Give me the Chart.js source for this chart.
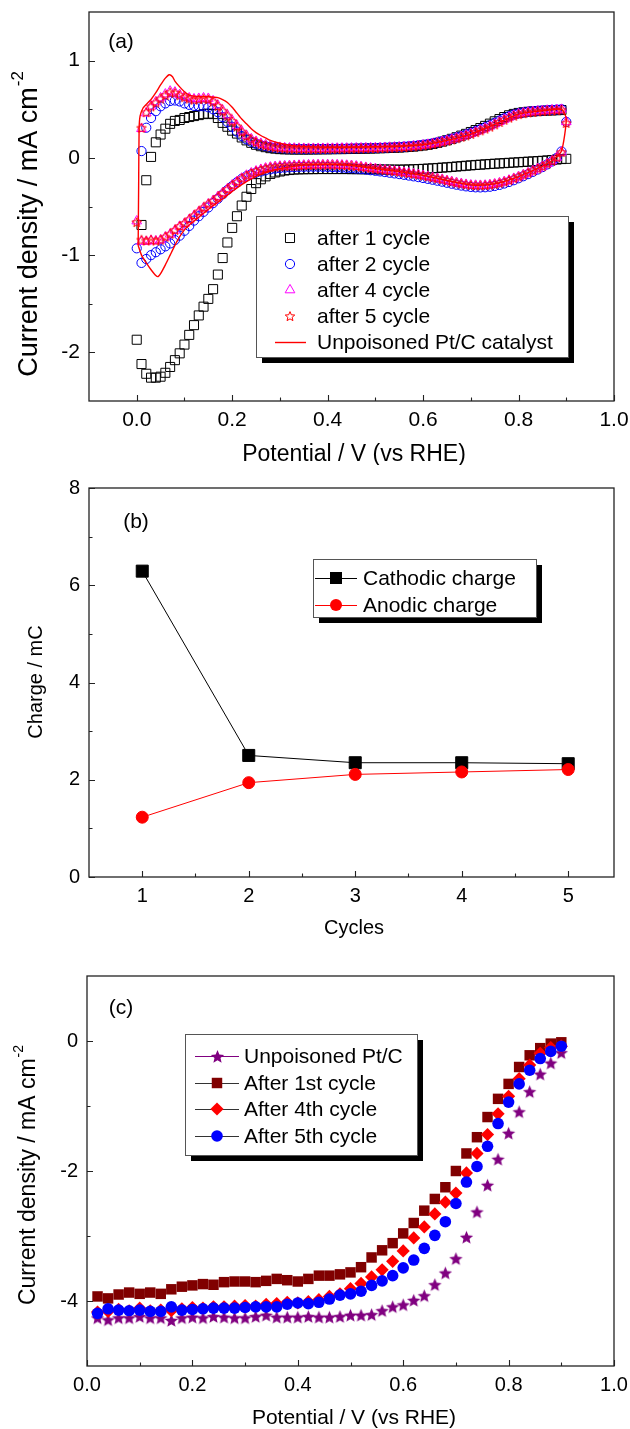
<!DOCTYPE html>
<html><head><meta charset="utf-8">
<script src="https://cdn.jsdelivr.net/npm/chart.js@4.4.1/dist/chart.umd.min.js"></script>
<style>
html,body{margin:0;padding:0;background:#fff;}
body{width:630px;height:1429px;position:relative;overflow:hidden;}
canvas{position:absolute;left:0;}
</style></head><body>
<canvas id="ca" width="630" height="465" style="top:0px"></canvas>
<canvas id="cb" width="630" height="475" style="top:465px"></canvas>
<canvas id="cc" width="630" height="489" style="top:940px"></canvas>
<script>
// ================= DATA =================
// ---- Panel (a): cyclic voltammograms ----
const cvPotential = [0.00,0.01,0.02,0.03,0.04,0.05,0.06,0.07,0.08,0.09,0.10,0.11,0.12,0.13,0.14,0.15,0.16,0.17,0.18,0.19,0.20,0.21,0.22,0.23,0.24,0.25,0.26,0.27,0.28,0.29,0.30,0.31,0.32,0.33,0.34,0.35,0.36,0.37,0.38,0.39,0.40,0.41,0.42,0.43,0.44,0.45,0.46,0.47,0.48,0.49,0.50,0.51,0.52,0.53,0.54,0.55,0.56,0.57,0.58,0.59,0.60,0.61,0.62,0.63,0.64,0.65,0.66,0.67,0.68,0.69,0.70,0.71,0.72,0.73,0.74,0.75,0.76,0.77,0.78,0.79,0.80,0.81,0.82,0.83,0.84,0.85,0.86,0.87,0.88,0.89,0.90];

const after1Anodic = [null,-0.69,-0.23,0.01,0.16,0.24,0.30,0.35,0.38,0.39,
0.41,0.42,0.43,0.44,0.45,0.455,0.45,0.41,0.36,0.32,
0.28,0.25,0.21,0.18,0.155,0.135,0.12,0.11,0.10,0.095,
0.09,0.088,0.087,0.086,0.086,0.086,0.086,0.087,0.087,0.088,
0.088,0.089,0.09,0.09,0.091,0.092,0.093,0.094,0.095,0.096,
0.097,0.099,0.10,0.102,0.104,0.106,0.109,0.112,0.116,0.121,
0.127,0.134,0.143,0.154,0.167,0.181,0.196,0.212,0.229,0.247,
0.266,0.286,0.307,0.329,0.352,0.376,0.399,0.42,0.438,0.452,
0.462,0.469,0.474,0.478,0.481,0.484,0.486,0.488,0.49,0.492,
null];
const after1Cathodic = [-1.87,-2.12,-2.22,-2.26,-2.26,-2.25,-2.21,-2.15,-2.08,-2.01,
-1.92,-1.82,-1.72,-1.62,-1.53,-1.45,-1.35,-1.2,-1.03,-0.87,
-0.72,-0.6,-0.49,-0.4,-0.32,-0.26,-0.22,-0.19,-0.165,-0.15,
-0.14,-0.13,-0.125,-0.12,-0.118,-0.117,-0.116,-0.116,-0.115,-0.115,
-0.115,-0.115,-0.115,-0.115,-0.115,-0.116,-0.116,-0.117,-0.117,-0.118,
-0.118,-0.119,-0.12,-0.12,-0.121,-0.121,-0.12,-0.119,-0.117,-0.115,
-0.113,-0.11,-0.107,-0.104,-0.1,-0.097,-0.093,-0.089,-0.085,-0.081,
-0.077,-0.073,-0.07,-0.066,-0.063,-0.06,-0.057,-0.054,-0.051,-0.048,
-0.045,-0.042,-0.039,-0.036,-0.033,-0.03,-0.026,-0.022,-0.017,-0.012,
-0.01];

const after2Anodic = [null,0.07,0.31,0.41,0.48,0.53,0.56,0.585,0.59,0.58,
0.56,0.545,0.535,0.53,0.53,0.52,0.50,0.47,0.42,0.37,
0.32,0.27,0.225,0.19,0.165,0.145,0.13,0.12,0.11,0.105,
0.10,0.097,0.095,0.093,0.092,0.091,0.091,0.091,0.091,0.092,
0.092,0.093,0.094,0.095,0.096,0.097,0.098,0.099,0.10,0.101,
0.102,0.104,0.106,0.108,0.11,0.113,0.116,0.12,0.124,0.129,
0.135,0.142,0.15,0.16,0.171,0.183,0.196,0.21,0.225,0.241,
0.258,0.276,0.295,0.315,0.337,0.36,0.384,0.407,0.428,0.445,
0.458,0.467,0.474,0.48,0.484,0.488,0.491,0.494,0.497,0.5,
0.37];
const after2Cathodic = [-0.93,-1.08,-1.04,-1.0,-0.97,-0.94,-0.91,-0.88,-0.845,-0.80,
-0.75,-0.70,-0.645,-0.60,-0.555,-0.51,-0.465,-0.42,-0.375,-0.33,
-0.29,-0.25,-0.215,-0.188,-0.168,-0.152,-0.14,-0.128,-0.118,-0.11,
-0.104,-0.1,-0.097,-0.095,-0.093,-0.092,-0.091,-0.091,-0.091,-0.092,
-0.093,-0.095,-0.097,-0.1,-0.103,-0.107,-0.111,-0.116,-0.121,-0.127,
-0.133,-0.139,-0.146,-0.153,-0.16,-0.167,-0.174,-0.182,-0.19,-0.198,
-0.207,-0.216,-0.225,-0.235,-0.245,-0.256,-0.266,-0.276,-0.285,-0.293,
-0.299,-0.303,-0.304,-0.302,-0.297,-0.289,-0.278,-0.264,-0.248,-0.23,
-0.21,-0.189,-0.167,-0.144,-0.12,-0.095,-0.067,-0.037,0.0,0.066,
null];

const after4Anodic = [null,0.30,0.46,0.53,0.575,0.615,0.655,0.685,0.675,0.65,
0.63,0.615,0.605,0.61,0.615,0.61,0.585,0.54,0.49,0.44,
0.385,0.33,0.275,0.23,0.195,0.168,0.148,0.133,0.122,0.113,
0.107,0.102,0.1,0.098,0.097,0.096,0.096,0.096,0.096,0.096,
0.097,0.097,0.098,0.099,0.099,0.1,0.101,0.101,0.102,0.103,
0.103,0.104,0.106,0.108,0.11,0.111,0.114,0.117,0.121,0.126,
0.131,0.138,0.146,0.156,0.167,0.179,0.191,0.205,0.219,0.234,
0.25,0.267,0.285,0.304,0.325,0.348,0.372,0.395,0.417,0.437,
0.452,0.462,0.47,0.476,0.481,0.485,0.489,0.492,0.495,0.498,
0.37];
const after4Cathodic = [-0.65,-0.86,-0.86,-0.85,-0.855,-0.845,-0.815,-0.785,-0.745,-0.705,
-0.675,-0.635,-0.595,-0.555,-0.515,-0.475,-0.44,-0.40,-0.36,-0.32,
-0.28,-0.245,-0.21,-0.18,-0.156,-0.136,-0.12,-0.106,-0.096,-0.09,
-0.086,-0.083,-0.081,-0.079,-0.077,-0.075,-0.073,-0.072,-0.071,-0.071,
-0.071,-0.071,-0.072,-0.074,-0.077,-0.08,-0.085,-0.092,-0.099,-0.106,
-0.112,-0.118,-0.124,-0.13,-0.136,-0.143,-0.15,-0.157,-0.165,-0.173,
-0.182,-0.192,-0.202,-0.212,-0.222,-0.234,-0.245,-0.256,-0.266,-0.274,
-0.28,-0.283,-0.284,-0.282,-0.277,-0.269,-0.258,-0.245,-0.23,-0.212,
-0.194,-0.174,-0.154,-0.132,-0.11,-0.087,-0.06,-0.032,0.003,0.058,
null];

const after5Anodic = [null,0.31,0.47,0.53,0.57,0.61,0.645,0.675,0.67,0.645,
0.625,0.61,0.60,0.605,0.61,0.605,0.58,0.535,0.485,0.435,
0.38,0.325,0.27,0.225,0.19,0.165,0.145,0.13,0.12,0.11,
0.105,0.10,0.098,0.097,0.096,0.095,0.095,0.095,0.095,0.095,
0.096,0.096,0.097,0.098,0.098,0.099,0.10,0.10,0.101,0.102,
0.102,0.103,0.105,0.107,0.109,0.11,0.112,0.116,0.12,0.125,
0.13,0.137,0.145,0.155,0.166,0.178,0.19,0.203,0.217,0.232,
0.248,0.265,0.283,0.302,0.322,0.345,0.37,0.393,0.415,0.435,
0.45,0.46,0.468,0.474,0.479,0.483,0.487,0.49,0.493,0.496,
0.36];
const after5Cathodic = [-0.66,-0.84,-0.85,-0.84,-0.85,-0.84,-0.81,-0.78,-0.74,-0.70,
-0.67,-0.63,-0.59,-0.55,-0.51,-0.47,-0.44,-0.40,-0.36,-0.32,
-0.28,-0.245,-0.21,-0.18,-0.155,-0.135,-0.12,-0.105,-0.095,-0.09,
-0.085,-0.082,-0.08,-0.078,-0.076,-0.074,-0.072,-0.071,-0.07,-0.07,
-0.07,-0.07,-0.071,-0.072,-0.075,-0.078,-0.083,-0.09,-0.097,-0.104,
-0.11,-0.116,-0.122,-0.128,-0.134,-0.141,-0.148,-0.155,-0.163,-0.171,
-0.18,-0.19,-0.2,-0.21,-0.22,-0.232,-0.243,-0.254,-0.264,-0.272,
-0.278,-0.281,-0.282,-0.28,-0.275,-0.267,-0.256,-0.243,-0.228,-0.21,
-0.192,-0.172,-0.152,-0.13,-0.108,-0.085,-0.058,-0.03,0.005,0.06,
null];

// Unpoisoned Pt/C: continuous curve (forward scan, then reverse scan)
const unpFwdPotential = [0.003,0.004,0.005,0.007,0.013,0.02,0.03,0.04,0.05,0.06,0.068,0.075,0.08,0.09,0.10,0.11,0.12,0.13,0.14,0.15,0.16,0.17,0.18,0.19,0.20,0.21,0.22,0.23,0.24,0.25,0.26,0.27,0.28,0.30,0.32,0.35,0.40,0.45,0.50,0.55,0.60,0.65,0.70,0.75,0.80,0.85,0.89,0.90];
const unpFwdCurrent = [-0.9,-0.3,0.3,0.43,0.51,0.55,0.60,0.67,0.75,0.82,0.855,0.835,0.79,0.73,0.68,0.645,0.635,0.63,0.63,0.63,0.625,0.62,0.60,0.57,0.52,0.46,0.40,0.35,0.30,0.26,0.23,0.205,0.18,0.15,0.13,0.118,0.11,0.11,0.115,0.12,0.135,0.18,0.245,0.345,0.45,0.485,0.50,0.40];
const unpRevPotential = [0.89,0.87,0.85,0.82,0.79,0.75,0.71,0.67,0.61,0.55,0.50,0.45,0.40,0.35,0.30,0.28,0.26,0.24,0.22,0.20,0.18,0.16,0.14,0.12,0.11,0.10,0.09,0.08,0.07,0.06,0.05,0.045,0.04,0.03,0.02,0.01,0.003];
const unpRevCurrent = [0.07,-0.03,-0.085,-0.152,-0.21,-0.267,-0.281,-0.254,-0.19,-0.141,-0.11,-0.078,-0.068,-0.075,-0.11,-0.135,-0.17,-0.215,-0.275,-0.345,-0.42,-0.49,-0.57,-0.65,-0.69,-0.74,-0.81,-0.9,-1.0,-1.1,-1.19,-1.22,-1.21,-1.15,-1.08,-1.0,-0.9];

const cvLegendLabels = ['after 1 cycle','after 2 cycle','after 4 cycle','after 5 cycle','Unpoisoned Pt/C catalyst'];
const cvXTicks = [0.0,0.2,0.4,0.6,0.8,1.0];
const cvXMinor = [0.1,0.3,0.5,0.7,0.9];
const cvYTicks = [-2,-1,0,1];
const cvYMinor = [-1.5,-0.5,0.5];

// ---- Panel (b): charge vs cycles ----
const cycles = [1,2,3,4,5];
const cathodicCharge = [6.29,2.50,2.35,2.35,2.33];
const anodicCharge = [1.23,1.94,2.11,2.16,2.21];
const chargeLegendLabels = ['Cathodic charge','Anodic charge'];
const chargeXTicks = [1,2,3,4,5];
const chargeXMinor = [1.5,2.5,3.5,4.5];
const chargeYTicks = [0,2,4,6,8];
const chargeYMinor = [1,3,5,7];

// ---- Panel (c): ORR polarisation curves ----
const lsvPotential = [0.02,0.04,0.06,0.08,0.10,0.12,0.14,0.16,0.18,0.20,0.22,0.24,0.26,0.28,0.30,0.32,0.34,0.36,0.38,0.40,0.42,0.44,0.46,0.48,0.50,0.52,0.54,0.56,0.58,0.60,0.62,0.64,0.66,0.68,0.70,0.72,0.74,0.76,0.78,0.80,0.82,0.84,0.86,0.88,0.90];
const unpoisonedORR = [-4.26,-4.29,-4.26,-4.26,-4.24,-4.26,-4.26,-4.30,-4.26,-4.25,
-4.26,-4.24,-4.25,-4.26,-4.26,-4.24,-4.22,-4.25,-4.25,-4.25,
-4.24,-4.25,-4.25,-4.24,-4.22,-4.22,-4.21,-4.15,-4.09,-4.06,
-3.99,-3.92,-3.75,-3.57,-3.35,-3.02,-2.63,-2.22,-1.82,-1.42,
-1.09,-0.78,-0.51,-0.34,-0.18];
const after1stORR = [-3.93,-3.96,-3.90,-3.87,-3.89,-3.87,-3.89,-3.82,-3.78,-3.76,
-3.74,-3.75,-3.71,-3.70,-3.70,-3.71,-3.69,-3.66,-3.68,-3.70,
-3.66,-3.61,-3.61,-3.59,-3.56,-3.48,-3.33,-3.22,-3.11,-2.96,
-2.80,-2.61,-2.43,-2.25,-2.00,-1.73,-1.48,-1.17,-0.89,-0.66,
-0.40,-0.22,-0.11,-0.04,-0.02];
const after4thORR = [-4.17,-4.16,-4.13,-4.15,-4.11,-4.15,-4.14,-4.15,-4.12,-4.10,
-4.11,-4.09,-4.09,-4.08,-4.07,-4.08,-4.05,-4.04,-4.02,-4.03,
-4.01,-3.98,-3.93,-3.89,-3.81,-3.73,-3.63,-3.52,-3.39,-3.23,
-3.03,-2.86,-2.66,-2.48,-2.34,-2.03,-1.73,-1.44,-1.12,-0.85,
-0.58,-0.37,-0.19,-0.10,-0.08];
const after5thORR = [-4.19,-4.12,-4.14,-4.15,-4.14,-4.16,-4.16,-4.09,-4.14,-4.13,
-4.12,-4.11,-4.11,-4.11,-4.10,-4.09,-4.09,-4.09,-4.05,-4.03,
-4.04,-4.02,-3.97,-3.91,-3.89,-3.85,-3.76,-3.69,-3.61,-3.49,
-3.37,-3.19,-2.99,-2.78,-2.50,-2.17,-1.93,-1.62,-1.27,-0.94,
-0.66,-0.45,-0.27,-0.16,-0.08];
const orrLegendLabels = ['Unpoisoned Pt/C','After 1st cycle','After 4th cycle','After 5th cycle'];
const orrXTicks = [0.0,0.2,0.4,0.6,0.8,1.0];
const orrXMinor = [0.1,0.3,0.5,0.7,0.9];
const orrYTicks = [-4,-2,0];
const orrYMinor = [-3,-1];

const xTitle = 'Potential / V (vs RHE)';
const yTitleCurrent = 'Current density / mA cm';
const yTitleSup = '-2';
const yTitleCharge = 'Charge / mC';
const xTitleCycles = 'Cycles';

// ================= HELPERS =================
const FONT = "'Liberation Sans', Arial, Helvetica, sans-serif";

function pts(xs, ys) { return xs.map((x, i) => ({ x: x, y: ys[i] })); }

function starCanvas(size, fill, stroke, lw) {
  const c = document.createElement('canvas');
  c.width = size; c.height = size;
  const g = c.getContext('2d');
  const cx = size / 2, cy = size / 2 + 0.6, R = size / 2 - lw, r = R * 0.45;
  g.beginPath();
  for (let i = 0; i < 10; i++) {
    const a = -Math.PI / 2 + i * Math.PI / 5;
    const rr = (i % 2) ? r : R;
    g.lineTo(cx + rr * Math.cos(a), cy + rr * Math.sin(a));
  }
  g.closePath();
  if (fill) { g.fillStyle = fill; g.fill(); }
  if (stroke) { g.strokeStyle = stroke; g.lineWidth = lw; g.stroke(); }
  return c;
}
const openRedStar = starCanvas(12, null, '#ff0000', 1);
const purpleStar = starCanvas(15, '#800080', null, 0.5);

function drawMarker(ctx, m, x, y) {
  ctx.save();
  if (m.type === 'image') {
    ctx.drawImage(m.img, Math.round(x - m.img.width / 2), Math.round(y - m.img.height / 2));
    ctx.restore(); return;
  }
  ctx.lineWidth = m.lw || 1;
  ctx.beginPath();
  const r = m.r;
  if (m.type === 'rect') { const s = Math.SQRT1_2 * r; ctx.rect(x - s, y - s, 2 * s, 2 * s); }
  else if (m.type === 'circle') { ctx.arc(x, y, r, 0, Math.PI * 2); }
  else if (m.type === 'triangle') {
    for (let i = 0; i < 3; i++) { const a = i * 2 * Math.PI / 3; ctx.lineTo(x + Math.sin(a) * r, y - Math.cos(a) * r); }
    ctx.closePath();
  } else if (m.type === 'rectRot') {
    ctx.moveTo(x, y - r); ctx.lineTo(x + r, y); ctx.lineTo(x, y + r); ctx.lineTo(x - r, y); ctx.closePath();
  }
  if (m.fill) { ctx.fillStyle = m.fill; ctx.fill(); }
  if (m.stroke) { ctx.strokeStyle = m.stroke; ctx.stroke(); }
  ctx.restore();
}

function drawLegend(ctx, L) {
  ctx.save();
  ctx.fillStyle = '#000';
  ctx.fillRect(L.x + L.shadow, L.y + L.shadow, L.w, L.h);
  ctx.fillStyle = '#fff';
  ctx.fillRect(L.x, L.y, L.w, L.h);
  ctx.strokeStyle = '#555'; ctx.lineWidth = 1;
  ctx.strokeRect(L.x + 0.5, L.y + 0.5, L.w, L.h);
  ctx.font = L.fs + 'px ' + FONT;
  ctx.textBaseline = 'middle'; ctx.textAlign = 'left';
  L.rows.forEach(row => {
    if (row.line) {
      ctx.strokeStyle = row.line.color; ctx.lineWidth = row.line.width || 1;
      ctx.beginPath(); ctx.moveTo(L.lineX1, row.y + 0.5); ctx.lineTo(L.lineX2, row.y + 0.5); ctx.stroke();
    }
    if (row.marker) drawMarker(ctx, row.marker, L.markerX, row.y);
    ctx.fillStyle = '#000';
    ctx.fillText(row.label, L.textX, row.y + 1);
  });
  ctx.restore();
}

function drawYTitle(ctx, t) {
  ctx.save();
  ctx.translate(t.x, t.y); ctx.rotate(-Math.PI / 2);
  ctx.fillStyle = '#000'; ctx.textBaseline = 'middle'; ctx.textAlign = 'left';
  ctx.font = t.fs + 'px ' + FONT;
  const w1 = ctx.measureText(t.text).width;
  const sfs = Math.round(t.fs * 0.62);
  ctx.font = sfs + 'px ' + FONT;
  const w2 = t.sup ? ctx.measureText(t.sup).width + 1 : 0;
  const x0 = -(w1 + w2) / 2;
  ctx.font = t.fs + 'px ' + FONT;
  ctx.fillText(t.text, x0, 0);
  if (t.sup) { ctx.font = sfs + 'px ' + FONT; ctx.fillText(t.sup, x0 + w1 + 1, -t.fs * 0.42); }
  ctx.restore();
}

function decor(o) {
  return {
    id: 'decor',
    afterDatasetsDraw(chart) {
      const ctx = chart.ctx, a = chart.chartArea, xs = chart.scales.x, ys = chart.scales.y;
      ctx.save();
      ctx.strokeStyle = '#222'; ctx.lineWidth = 1.3;
      ctx.strokeRect(a.left, a.top, a.right - a.left, a.bottom - a.top);
      ctx.beginPath();
      o.xMajor.forEach(v => { const p = Math.round(xs.getPixelForValue(v)) + 0.5; ctx.moveTo(p, a.bottom); ctx.lineTo(p, a.bottom - 6); });
      o.xMinor.forEach(v => { const p = Math.round(xs.getPixelForValue(v)) + 0.5; ctx.moveTo(p, a.bottom); ctx.lineTo(p, a.bottom - 3.5); });
      o.yMajor.forEach(v => { const p = Math.round(ys.getPixelForValue(v)) + 0.5; ctx.moveTo(a.left, p); ctx.lineTo(a.left + 6, p); });
      o.yMinor.forEach(v => { const p = Math.round(ys.getPixelForValue(v)) + 0.5; ctx.moveTo(a.left, p); ctx.lineTo(a.left + 3.5, p); });
      ctx.lineWidth = 1.1; ctx.stroke();
      ctx.fillStyle = '#000'; ctx.textAlign = 'center'; ctx.textBaseline = 'middle';
      ctx.font = o.panel.fs + 'px ' + FONT;
      ctx.fillText(o.panel.text, o.panel.x, o.panel.y);
      ctx.font = o.xTitle.fs + 'px ' + FONT;
      ctx.fillText(o.xTitle.text, o.xTitle.x, o.xTitle.y);
      drawYTitle(ctx, o.yTitle);
      drawLegend(ctx, o.legend);
      ctx.restore();
    }
  };
}

function axis(o) {
  return {
    type: 'linear', min: o.min, max: o.max,
    grid: { display: false, drawTicks: false },
    border: { display: false },
    ticks: { padding: o.pad, color: '#000', font: { family: FONT, size: o.fs }, autoSkip: false, maxRotation: 0, minRotation: 0, callback: o.fmt },
    afterBuildTicks: (s) => { s.ticks = o.major.map(v => ({ value: v })); },
    afterFit: (s) => {
      if (o.horiz) { s.height = o.size; } else { s.width = o.size; }
      s.paddingLeft = 0; s.paddingRight = 0; s.paddingTop = 0; s.paddingBottom = 0;
    }
  };
}

function baseOptions(pad, xAx, yAx) {
  return {
    responsive: false, animation: false, devicePixelRatio: 1, events: [],
    layout: { padding: pad },
    plugins: { legend: { display: false }, tooltip: { enabled: false } },
    scales: { x: xAx, y: yAx }
  };
}

const fmt1 = v => Number(v).toFixed(1);
const fmt0 = v => String(v);

// ================= PANEL (a) =================
const mSquare = { type: 'rect', r: 6.4, stroke: '#000', lw: 1 };
const mCircle = { type: 'circle', r: 4.6, stroke: '#0000ff', lw: 1 };
const mTri = { type: 'triangle', r: 5.6, stroke: '#ff00ff', lw: 1 };
const mStar = { type: 'image', img: openRedStar };

function cvSet(label, up, down, style, color, radius, order) {
  return {
    label: label,
    data: pts(cvPotential, up).concat(pts(cvPotential, down)),
    showLine: false, pointStyle: style, pointRadius: radius,
    pointBorderColor: color, pointBackgroundColor: 'rgba(0,0,0,0)', pointBorderWidth: 1,
    order: order
  };
}

new Chart(document.getElementById('ca'), {
  type: 'scatter',
  data: { datasets: [
    cvSet(cvLegendLabels[0], after1Anodic, after1Cathodic, 'rect', '#000000', 6.4, 4),
    cvSet(cvLegendLabels[1], after2Anodic, after2Cathodic, 'circle', '#0000ff', 4.6, 3),
    cvSet(cvLegendLabels[2], after4Anodic, after4Cathodic, 'triangle', '#ff00ff', 5.6, 2),
    cvSet(cvLegendLabels[3], after5Anodic, after5Cathodic, openRedStar, '#ff0000', 6, 1),
    { label: cvLegendLabels[4], data: pts(unpFwdPotential, unpFwdCurrent).concat(pts(unpRevPotential, unpRevCurrent)),
      showLine: true, pointRadius: 0, borderColor: '#ff0000', borderWidth: 1.4, tension: 0.2, order: 0 }
  ] },
  options: baseOptions({ left: 0, right: 16, top: 12, bottom: 0 },
    axis({ min: -0.1, max: 1.0, major: cvXTicks, fmt: fmt1, pad: 7, horiz: true, size: 64, fs: 21 }),
    axis({ min: -2.5, max: 1.5, major: cvYTicks, fmt: fmt0, pad: 9, horiz: false, size: 89, fs: 21 })),
  plugins: [decor({
    xMajor: cvXTicks, xMinor: cvXMinor, yMajor: cvYTicks, yMinor: cvYMinor,
    panel: { text: '(a)', x: 121, y: 42, fs: 21 },
    xTitle: { text: xTitle, x: 354, y: 455, fs: 23 },
    yTitle: { text: yTitleCurrent, sup: yTitleSup, x: 30, y: 224, fs: 27 },
    legend: { x: 256, y: 216, w: 312, h: 141, shadow: 6, markerX: 290, textX: 317, lineX1: 275, lineX2: 306, fs: 21,
      rows: [
        { y: 238, label: cvLegendLabels[0], marker: mSquare },
        { y: 264, label: cvLegendLabels[1], marker: mCircle },
        { y: 290, label: cvLegendLabels[2], marker: mTri },
        { y: 316, label: cvLegendLabels[3], marker: mStar },
        { y: 342, label: cvLegendLabels[4], line: { color: '#ff0000', width: 1.4 } }
      ] }
  })]
});

// ================= PANEL (b) =================
new Chart(document.getElementById('cb'), {
  type: 'scatter',
  data: { datasets: [
    { label: chargeLegendLabels[0], data: pts(cycles, cathodicCharge), showLine: true,
      borderColor: '#000', borderWidth: 1, pointStyle: 'rect', pointRadius: 8.5,
      pointBackgroundColor: '#000', pointBorderColor: '#000', order: 2 },
    { label: chargeLegendLabels[1], data: pts(cycles, anodicCharge), showLine: true,
      borderColor: '#ff0000', borderWidth: 1, pointStyle: 'circle', pointRadius: 6,
      pointBackgroundColor: '#ff0000', pointBorderColor: '#ff0000', order: 1 }
  ] },
  options: baseOptions({ left: 0, right: 16, top: 23, bottom: 0 },
    axis({ min: 0.5, max: 5.43, major: chargeXTicks, fmt: fmt0, pad: 7, horiz: true, size: 63, fs: 20 }),
    axis({ min: 0, max: 8, major: chargeYTicks, fmt: fmt0, pad: 9, horiz: false, size: 89, fs: 20 })),
  plugins: [decor({
    xMajor: chargeXTicks, xMinor: chargeXMinor, yMajor: chargeYTicks, yMinor: chargeYMinor,
    panel: { text: '(b)', x: 136, y: 57, fs: 21 },
    xTitle: { text: xTitleCycles, x: 354, y: 463, fs: 20 },
    yTitle: { text: yTitleCharge, sup: '', x: 36, y: 217, fs: 20 },
    legend: { x: 313, y: 94, w: 223, h: 58, shadow: 6, markerX: 336, textX: 363, lineX1: 315, lineX2: 357, fs: 21,
      rows: [
        { y: 113, label: chargeLegendLabels[0], line: { color: '#000' }, marker: { type: 'rect', r: 8.5, fill: '#000' } },
        { y: 140, label: chargeLegendLabels[1], line: { color: '#ff0000' }, marker: { type: 'circle', r: 6, fill: '#ff0000' } }
      ] }
  })]
});

// ================= PANEL (c) =================
new Chart(document.getElementById('cc'), {
  type: 'scatter',
  data: { datasets: [
    { label: orrLegendLabels[0], data: pts(lsvPotential, unpoisonedORR), showLine: false,
      pointStyle: purpleStar, pointRadius: 7, order: 4 },
    { label: orrLegendLabels[1], data: pts(lsvPotential, after1stORR), showLine: false,
      pointStyle: 'rect', pointRadius: 7.4, pointBackgroundColor: '#800000', pointBorderColor: '#800000', pointBorderWidth: 0, order: 3 },
    { label: orrLegendLabels[2], data: pts(lsvPotential, after4thORR), showLine: false,
      pointStyle: 'rectRot', pointRadius: 6.6, pointBackgroundColor: '#ff0000', pointBorderColor: '#ff0000', pointBorderWidth: 0, order: 2 },
    { label: orrLegendLabels[3], data: pts(lsvPotential, after5thORR), showLine: false,
      pointStyle: 'circle', pointRadius: 5.8, pointBackgroundColor: '#0000ff', pointBorderColor: '#0000ff', pointBorderWidth: 0, order: 1 }
  ] },
  options: baseOptions({ left: 0, right: 16, top: 36, bottom: 0 },
    axis({ min: 0, max: 1.0, major: orrXTicks, fmt: fmt1, pad: 7, horiz: true, size: 63, fs: 20 }),
    axis({ min: -5, max: 1, major: orrYTicks, fmt: fmt0, pad: 9, horiz: false, size: 87, fs: 20 })),
  plugins: [decor({
    xMajor: orrXTicks, xMinor: orrXMinor, yMajor: orrYTicks, yMinor: orrYMinor,
    panel: { text: '(c)', x: 121, y: 68, fs: 21 },
    xTitle: { text: xTitle, x: 354, y: 478, fs: 21 },
    yTitle: { text: yTitleCurrent, sup: yTitleSup, x: 29, y: 235, fs: 23 },
    legend: { x: 185, y: 94, w: 232, h: 121, shadow: 6, markerX: 217, textX: 244, lineX1: 195, lineX2: 239, fs: 21,
      rows: [
        { y: 116, label: orrLegendLabels[0], line: { color: '#800080' }, marker: { type: 'image', img: purpleStar } },
        { y: 143, label: orrLegendLabels[1], line: { color: '#333' }, marker: { type: 'rect', r: 7.4, fill: '#800000' } },
        { y: 169, label: orrLegendLabels[2], line: { color: '#333' }, marker: { type: 'rectRot', r: 6.6, fill: '#ff0000' } },
        { y: 196, label: orrLegendLabels[3], line: { color: '#333' }, marker: { type: 'circle', r: 5.8, fill: '#0000ff' } }
      ] }
  })]
});
</script>
</body></html>
